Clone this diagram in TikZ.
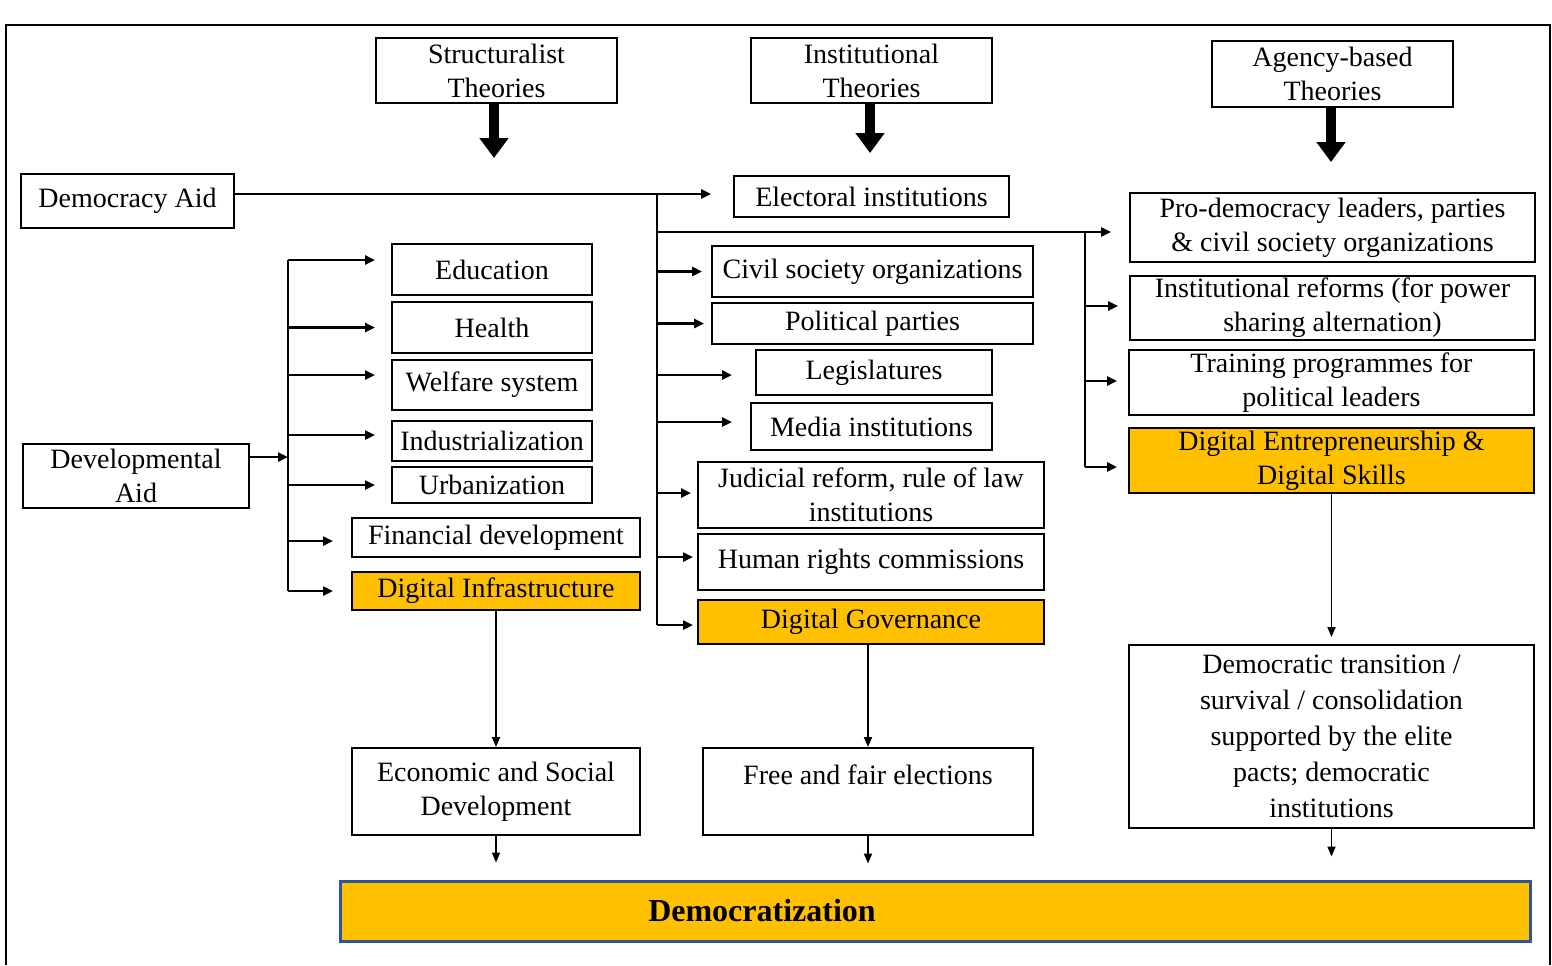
\documentclass[tikz,border=0pt]{standalone}
\usepackage{fontspec}
\setmainfont{Liberation Serif}
\usetikzlibrary{arrows.meta}
\usetikzlibrary{calc}
\definecolor{gold}{RGB}{255,192,0}
\definecolor{frameblue}{RGB}{47,85,151}
\tikzset{
box/.style 2 args={draw, line width=1pt, inner sep=1pt, align=center,
	minimum width=#1, minimum height=#2},
goldbox/.style 2 args={box={#1}{#2}, fill=gold},
conn/.style={line width=1.2pt},
arr/.style={line width=1.2pt, -{Triangle[length=5pt,width=4.5pt]}},
thinarr/.style={line width=0.9pt, -{Triangle[length=5pt,width=4pt]}},
bigarrow/.style={line width=5pt, -{Triangle[length=10pt,width=14pt]}},
}

\begin{document}
\begin{tikzpicture}[x=0.5pt, y=-0.5pt, font=\fontsize{14}{17}\selectfont]
\useasboundingbox (0,0) rectangle (1552,965);
\draw[line width=1pt] (6,965) -- (6,25) -- (1550,25) -- (1550,965);

%Place the nodes
\node[box={120.5pt}{32.5pt}] (struct) at (496.5,70.5) {Structuralist\\Theories};
\node[box={120.5pt}{32.5pt}] (inst) at (871.5,70.5) {Institutional\\Theories};
\node[box={120.5pt}{33pt}] (agency) at (1332.5,74) {Agency-based\\Theories};

\node[box={106.5pt}{27pt}] (demaid) at (127.5,201) {Democracy Aid};
\node[box={113pt}{32pt}] (devaid) at (136,476) {Developmental\\Aid};

%structuralist column
\node[box={100pt}{25.5pt}] (educ) at (492,269.5) {Education};
\node[box={100pt}{25.5pt}] (health) at (492,327.5) {Health};
\node[box={100pt}{25pt}] (welfare) at (492,385) {Welfare system};
\node[box={100pt}{20pt}] (industr) at (492,441) {Industrialization};
\node[box={100pt}{18pt}] (urban) at (492,485) {Urbanization};
\node[box={144pt}{19.5pt}] (finance) at (496,537.5) {Financial development};
\node[goldbox={144pt}{19pt}] (diginfra) at (496,591) {Digital Infrastructure};
\node[box={144pt}{43.5pt}] (econ) at (496,791.5) {Economic and Social\\Development};

%institutional column
\node[box={137.5pt}{20.5pt}] (elect) at (871.5,196.5) {Electoral institutions};
\node[box={160.5pt}{25.5pt}] (civil) at (872.5,271.5) {Civil society organizations};
\node[box={160.5pt}{20.5pt}] (parties) at (872.5,323.5) {Political parties};
\node[box={118pt}{22.5pt}] (legis) at (874,372.5) {Legislatures};
\node[box={120.5pt}{23.5pt}] (media) at (871.5,426.5) {Media institutions};
\node[box={173pt}{33pt}] (judic) at (871,495) {Judicial reform, rule of law\\institutions};
\node[box={173pt}{28pt}] (rights) at (871,562) {Human rights commissions};
\node[goldbox={173pt}{22pt}] (diggov) at (871,622) {Digital Governance};
\node[box={165pt}{43.5pt}] (free) at (868,791.5) {Free and fair elections\\\mbox{}};

%agency column
\node[box={202.5pt}{34.5pt}] (prodem) at (1332.5,227.5) {Pro-democracy leaders, parties\\\& civil society organizations};
\node[box={202.5pt}{32pt}] (reform) at (1332.5,308) {Institutional reforms (for power\\sharing alternation)};
\node[box={202.5pt}{32.5pt}] (train) at (1331.5,382.5) {Training programmes for\\political leaders};
\node[goldbox={202.5pt}{32.5pt}] (digent) at (1331.5,460.5) {Digital Entrepreneurship \&\\Digital Skills};
\node[box={202.5pt}{91.5pt}, font=\fontsize{14}{18}\selectfont] (trans) at (1331.5,736.5)
	{Democratic transition /\\survival / consolidation\\supported by the elite\\pacts; democratic\\institutions};

\node[goldbox={595pt}{30pt}, draw=frameblue, line width=1.5pt] (demz) at (935,911) {};
\node[font=\bfseries\fontsize{16}{19}\selectfont] (demzlabel) at (762,911) {Democratization};

\coordinate (stip) at (494,158);
\coordinate (itip) at (870,153);
\coordinate (atip) at (1331,162);
\coordinate (j1) at (657,194);
\coordinate (j2) at (1085,232);
\coordinate (k) at (288,457);

%
\draw[bigarrow] (struct.south -| stip) -- (stip);
\draw[bigarrow] (inst.south -| itip) -- (itip);
\draw[bigarrow] (agency.south -| atip) -- (atip);

%
\draw[conn] (demaid.east |- j1) -- (j1);
\draw[arr, shorten >=11pt] (j1) -- (j1 -| elect.west);
\draw[conn] (j1) -- ([yshift=-1.5pt]j1 |- diggov);
\draw[arr, shorten >=2pt] ([yshift=-1.5pt]j1 |- diggov) -- ([yshift=-1.5pt]diggov.west);
\foreach \n/\s/\d in {civil/4.5pt/0pt, parties/3.5pt/0pt, legis/11.5pt/-1.25pt,
		media/9pt/2.25pt, judic/3pt/1pt, rights/2pt/2.5pt}
	\draw[arr, shorten >=\s] ([yshift=\d]j1 |- \n) -- ([yshift=\d]\n.west);

%
\draw[arr, shorten >=9pt] (j1 |- j2) -- (j2 -| prodem.west);
\draw[conn] (j2) -- ([yshift=-3.25pt]j2 |- digent);
\foreach \n/\d in {reform/1pt, train/0.75pt, digent/-3.25pt}
	\draw[arr, shorten >=5.5pt] ([yshift=\d]j2 |- \n) -- ([yshift=\d]\n.west);

%
\draw[arr] (devaid.east |- k) -- (k);
\draw[conn] ([yshift=4.75pt]k |- educ) -- (k |- diginfra);
\foreach \n/\d in {educ/4.75pt, health/0pt, welfare/5pt, industr/3pt, urban/0pt}
	\draw[arr, shorten >=8pt] ([yshift=\d]k |- \n) -- ([yshift=\d]\n.west);
\foreach \n/\d in {finance/-1.75pt, diginfra/0pt}
	\draw[arr, shorten >=9pt] ([yshift=\d]k |- \n) -- ([yshift=\d]\n.west);

%
\draw[thinarr] (diginfra.south) -- (econ.north);
\draw[thinarr] (free.north |- diggov.south) -- (free.north);
\draw[thinarr, shorten >=3.5pt] (digent.south) -- (trans.north);
\draw[thinarr, shorten >=8.5pt] (econ.south) -- (econ.south |- demz.north);
\draw[thinarr, shorten >=8pt] (free.south) -- (free.south |- demz.north);
\draw[thinarr, shorten >=11.5pt] (trans.south) -- (trans.south |- demz.north);

\end{tikzpicture}
\end{document}
